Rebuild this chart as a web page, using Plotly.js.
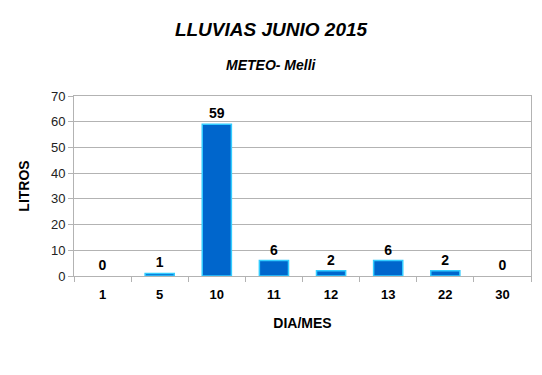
<!DOCTYPE html>
<html><head><meta charset="utf-8">
<script src="https://cdn.plot.ly/plotly-3.0.1.min.js"></script>
<style>body{margin:0;background:#fff}#c{width:542px;height:375px}</style>
</head><body><div id="c"></div>
<script>
const dias = ["1","5","10","11","12","13","22","30"];
const litros = [0,1,59,6,2,6,2,0];
const F = "Liberation Sans, Arial, sans-serif";
Plotly.newPlot("c",[{
  type:"bar", x:dias, y:litros,
  marker:{color:"#0066cc", line:{color:"#33ccff", width:litros.map(v=>v>0?1.5:0)}},
  text:litros.map(String), textposition:"outside", cliponaxis:false,
  textfont:{family:F,size:14,color:"#000",weight:"bold"},
  hoverinfo:"none"
}],{
  width:542,height:375,
  margin:{l:74,r:11,t:96,b:99},
  paper_bgcolor:"#fff",plot_bgcolor:"#fff",
  bargap:0.49,
  showlegend:false,
  title:{text:"<b><i>LLUVIAS JUNIO 2015</i></b>",font:{family:F,size:19,color:"#000"},x:0.5,xanchor:"center",y:0.923,yanchor:"middle"},
  annotations:[{text:"<b><i>METEO- Melli</i></b>",xref:"paper",yref:"paper",x:0.432,xanchor:"center",
    y:1,yanchor:"bottom",yshift:21,showarrow:false,font:{family:F,size:14,color:"#000"}}],
  xaxis:{type:"category",tickson:"boundaries",ticks:"outside",ticklen:5,tickcolor:"#b3b3b3",
    showgrid:false,showline:true,linecolor:"#b3b3b3",mirror:true,ticklabelstandoff:6,
    tickfont:{family:F,size:13,color:"#000",weight:"bold"},
    title:{text:"<b>DIA/MES</b>",font:{family:F,size:14,color:"#000"},standoff:17}},
  yaxis:{range:[0,70],dtick:10,ticks:"outside",ticklen:5,tickcolor:"#b3b3b3",
    showgrid:true,gridcolor:"#b3b3b3",showline:true,linecolor:"#b3b3b3",mirror:true,zeroline:false,
    tickfont:{family:F,size:13,color:"#222"},
    title:{text:"<b>LITROS</b>",font:{family:F,size:14,color:"#000"},standoff:18}}
},{staticPlot:true});
</script></body></html>
